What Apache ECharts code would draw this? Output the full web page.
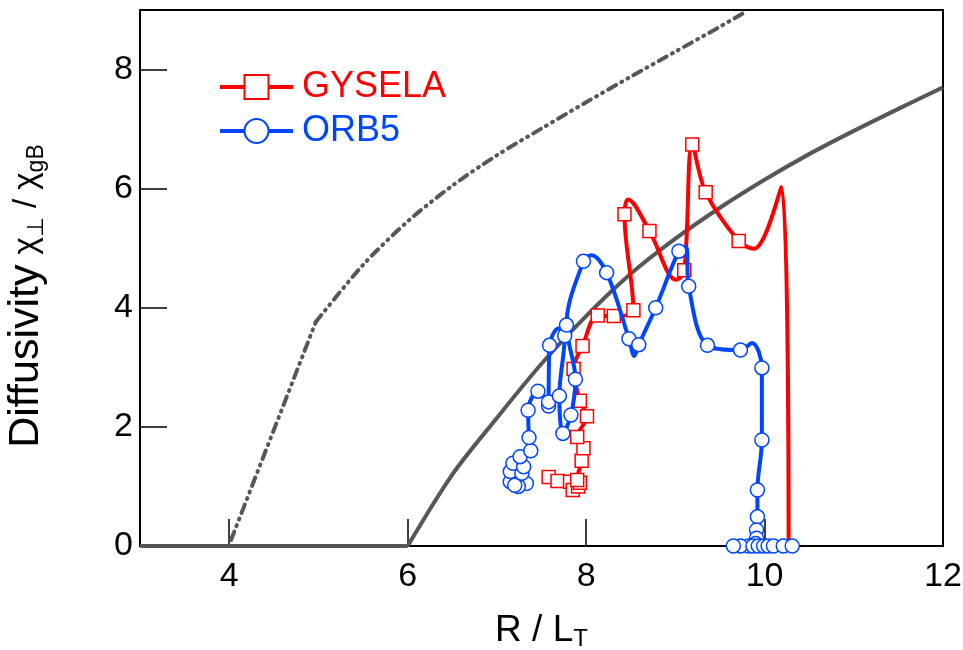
<!DOCTYPE html>
<html>
<head>
<meta charset="utf-8">
<script src="https://cdn.jsdelivr.net/npm/echarts@6/dist/echarts.min.js"></script>
<style>
  html, body { margin: 0; padding: 0; background: #fff; }
  #main { width: 963px; height: 650px; }
</style>
</head>
<body>
<div id="main"></div>
<script>
// tick labels
var xTicks = [4, 6, 8, 10, 12];
var yTicks = [0, 2, 4, 6, 8];

// GYSELA trace (points without a marker listed in gyselaBare)
var gyselaX = [7.58, 7.68, 7.82, 7.85, 7.91, 7.93, 7.90, 7.95, 7.97, 7.90, 8.01, 7.93, 7.86, 7.96, 8.13, 8.31, 8.53, 8.43, 8.47, 8.71, 9.01, 9.10, 9.19, 9.34, 9.71, 9.88, 10.19, 10.27];
var gyselaY = [1.16, 1.09, 1.08, 0.94, 1.00, 1.06, 1.11, 1.43, 1.64, 1.83, 2.18, 2.44, 2.97, 3.36, 3.87, 3.86, 3.96, 5.57, 5.82, 5.29, 4.47, 4.63, 6.74, 5.94, 5.12, 4.99, 6.03, 0.00];
var gyselaBare = [18, 20, 25, 26, 27];

// ORB5 trace
var orb5X = [7.33, 7.24, 7.15, 7.20, 7.15, 7.28, 7.18, 7.30, 7.26, 7.38, 7.36, 7.35, 7.46, 7.58, 7.58, 7.59, 7.69, 7.76, 7.70, 7.74, 7.83, 7.88, 7.78, 7.97, 8.06, 8.23, 8.48, 8.54, 8.59, 8.78, 9.04, 9.12, 9.15, 9.36, 9.73, 9.86, 9.97, 9.97, 9.92, 9.92, 9.91, 9.91, 9.90, 9.82, 9.73, 9.65, 9.87, 9.93, 9.99, 10.04, 10.10, 10.21, 10.31];
var orb5Y = [1.05, 1.00, 1.08, 1.02, 1.25, 1.22, 1.39, 1.33, 1.50, 1.60, 1.82, 2.28, 2.60, 2.35, 2.42, 3.37, 3.65, 3.53, 2.52, 1.89, 2.20, 2.80, 3.71, 4.78, 4.88, 4.59, 3.48, 3.19, 3.38, 4.00, 4.95, 5.02, 4.36, 3.37, 3.29, 3.41, 2.99, 1.78, 0.94, 0.49, 0.27, 0.13, 0.04, 0.00, 0.00, 0.00, 0.00, 0.00, 0.00, 0.00, 0.00, 0.00, 0.00];
var orb5Bare = [16, 24, 27, 31, 35];

// reference curves (gray)
var solidFlatX = [3, 6];
var solidFlatY = [0, 0];
var solidCurveX = [6, 6.5, 7, 7.5, 8, 8.5, 9, 9.5, 10, 10.5, 11, 11.5, 12];
var solidCurveY = [0, 1.2, 2.15, 3.06, 3.86, 4.57, 5.16, 5.68, 6.15, 6.58, 6.97, 7.34, 7.70];
var dashLowX = [4.02, 4.97];
var dashLowY = [0.1, 3.76];
var dashHighX = [4.97, 5.5, 6.0, 6.5, 7.0, 7.5, 8.0, 8.5, 9.0, 9.5, 9.8];
var dashHighY = [3.76, 4.72, 5.45, 6.05, 6.56, 7.01, 7.45, 7.88, 8.30, 8.72, 8.98];

var RED = '#ff0000';
var BLUE = '#0046ff';
var GRAY = '#575757';
var FONT = 'Liberation Sans, Arial, sans-serif';

function pairs(xs, ys) {
  return xs.map(function (x, i) { return [x, ys[i]]; });
}
function traced(xs, ys, bare) {
  return xs.map(function (x, i) {
    var item = { value: [x, ys[i]] };
    if (bare.indexOf(i) >= 0) item.symbol = 'none';
    return item;
  });
}
function grayLine(data, smooth, dashed) {
  return {
    type: 'line', data: data, smooth: smooth, symbol: 'none', silent: true,
    lineStyle: {
      color: GRAY, width: 4,
      type: dashed ? [9, 6, 1, 6, 1, 6] : 'solid',
      cap: dashed ? 'round' : 'butt'
    },
    z: 1
  };
}

var chart = echarts.init(document.getElementById('main'));
chart.setOption({
  animation: false,
  backgroundColor: '#fff',
  grid: {
    left: 140, right: 20, top: 10, bottom: 104, outerBoundsMode: 'none',
    show: true, borderColor: '#000', borderWidth: 2
  },
  legend: {
    orient: 'vertical',
    left: 213, top: 64,
    itemWidth: 73, itemHeight: 30, itemGap: 8,
    lineStyle: { width: 4 },
    textStyle: { fontSize: 36, fontFamily: FONT, padding: [0, 0, 0, 4] },
    data: [
      { name: 'GYSELA', textStyle: { color: RED } },
      { name: 'ORB5', textStyle: { color: BLUE } }
    ]
  },
  xAxis: {
    type: 'value', min: 3, max: 12,
    name: '{m|R / L}{s|T}', nameLocation: 'middle', nameGap: 65,
    nameTextStyle: {
      rich: {
        m: { fontSize: 37, fontFamily: FONT, color: '#000' },
        s: { fontSize: 24, fontFamily: FONT, color: '#000', verticalAlign: 'bottom', padding: [16, 0, 0, 0] }
      }
    },
    axisLine: { lineStyle: { color: '#000', width: 2 } },
    axisTick: { inside: true, length: 27, customValues: xTicks, lineStyle: { color: '#000', width: 1.5 } },
    axisLabel: { customValues: xTicks, fontSize: 34, fontFamily: FONT, color: '#000', margin: 14 },
    splitLine: { show: false }
  },
  yAxis: {
    type: 'value', min: 0, max: 9, interval: 2,
    name: '{d|Diffusivity}   {c|χ}{s|⊥}{c| / χ}{s|gB}',
    nameLocation: 'middle', nameRotate: 90, nameGap: 92,
    nameTextStyle: {
      padding: [0, 36, 0, 0],
      rich: {
        d: { fontSize: 43, fontFamily: FONT, color: '#000' },
        c: { fontSize: 33, fontFamily: FONT, color: '#000' },
        s: { fontSize: 23, fontFamily: FONT, color: '#000', verticalAlign: 'bottom', padding: [14, 0, 0, 0] }
      }
    },
    axisLine: { lineStyle: { color: '#000', width: 2 } },
    axisTick: { inside: true, length: 27, lineStyle: { color: '#000', width: 1.5 } },
    axisLabel: {
      fontSize: 34, fontFamily: FONT, color: '#000', margin: 7,
      formatter: function (v) { return yTicks.indexOf(v) >= 0 ? String(v) : ''; }
    },
    splitLine: { show: false }
  },
  series: [
    grayLine(pairs(solidFlatX, solidFlatY), false, false),
    grayLine(pairs(solidCurveX, solidCurveY), 0.3, false),
    grayLine(pairs(dashLowX, dashLowY), false, true),
    grayLine(pairs(dashHighX, dashHighY), 0.3, true),
    {
      name: 'GYSELA', type: 'line', smooth: 0.35,
      data: traced(gyselaX, gyselaY, gyselaBare),
      symbol: 'rect', symbolSize: 13, showAllSymbol: true,
      lineStyle: { color: RED, width: 4 },
      itemStyle: { color: '#fff', borderColor: RED, borderWidth: 1.5 },
      z: 3
    },
    {
      name: 'ORB5', type: 'line', smooth: 0.35,
      data: traced(orb5X, orb5Y, orb5Bare),
      symbol: 'circle', symbolSize: 14, showAllSymbol: true,
      lineStyle: { color: BLUE, width: 4 },
      itemStyle: { color: '#fff', borderColor: BLUE, borderWidth: 1.5 },
      z: 4
    }
  ]
});
</script>
</body>
</html>
